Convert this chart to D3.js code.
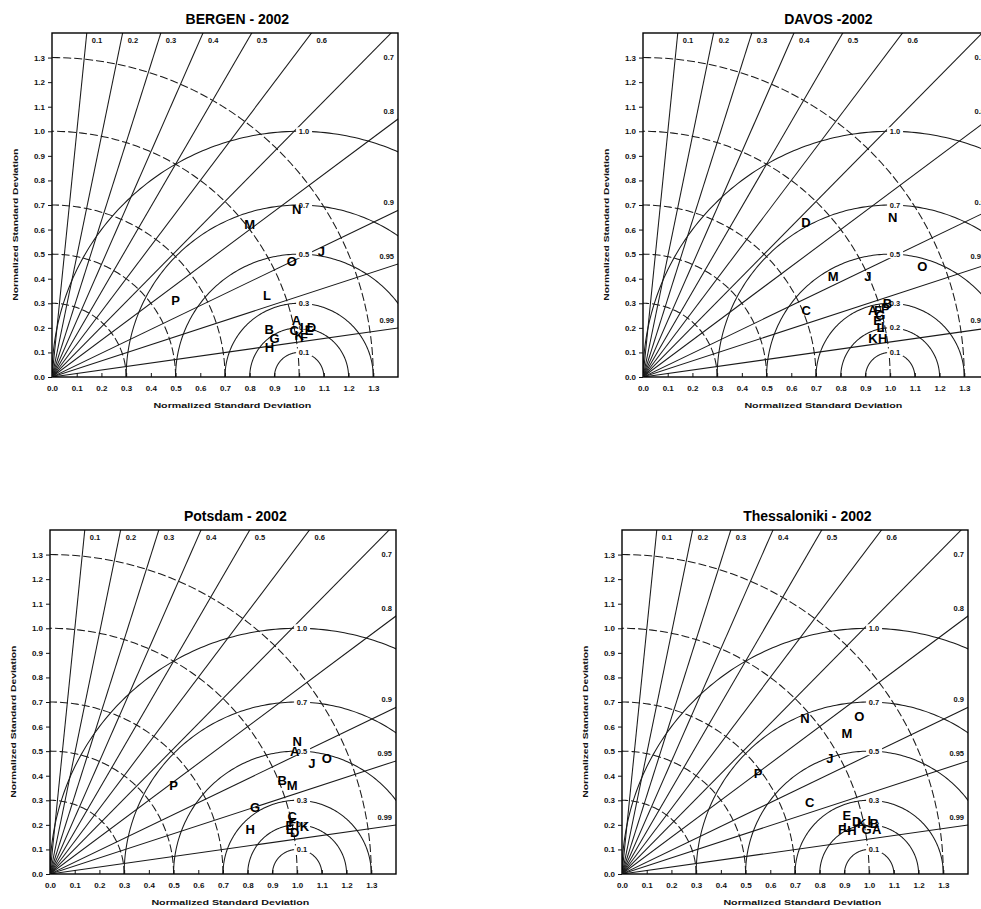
<!DOCTYPE html>
<html>
<head>
<meta charset="utf-8">
<title>Taylor diagrams - 2002</title>
<script src="https://d3js.org/d3.v7.min.js"></script>
<style>
  body { margin: 0; background: #fff; }
  svg { font-family: "Liberation Sans", Arial, sans-serif; }
  .axis path, .axis line { fill: none; stroke: #111; }
  .axis text { font-size: 8px; font-weight: bold; fill: #111; }
  .grid line, .grid path { fill: none; stroke: #1a1a1a; stroke-width: 1.05; }
  .sd { stroke-dasharray: 8,3; }
  .lab { font-size: 7.5px; font-weight: bold; fill: #111; }
  .title { font-size: 14px; font-weight: bold; fill: #000; text-anchor: middle; }
  .axtitle { font-size: 8px; font-weight: bold; fill: #111; text-anchor: middle; }
  .mark { font-size: 13px; font-weight: bold; fill: #000; text-anchor: middle; }
</style>
</head>
<body>
<script>
var width = 981, height = 909;

// grid definitions
var corrTicks = [0.1, 0.2, 0.3, 0.4, 0.5, 0.6, 0.7, 0.8, 0.9, 0.95, 0.99];
var sdArcs = [0.3, 0.5, 0.7, 1.0, 1.3];
var rmsArcs = [0.1, 0.2, 0.3, 0.5, 0.7, 1.0];
var axisTicks = [0.0, 0.1, 0.2, 0.3, 0.4, 0.5, 0.6, 0.7, 0.8, 0.9, 1.0, 1.1, 1.2, 1.3];
var maxV = 1.4;

// BERGEN
var bergenNames = ["A","B","C","D","E","F","G","H","I","J","K","L","M","N","O","P"];
var bergenSd    = [1.016,0.900,0.998,1.069,1.057,1.032,0.914,0.888,1.030,1.203,1.014,0.930,1.012,1.201,1.078,0.588];
var bergenCorr  = [0.974,0.977,0.982,0.982,0.984,0.988,0.985,0.991,0.981,0.906,0.986,0.935,0.790,0.824,0.900,0.850];

// DAVOS
var davosNames = ["A","B","C","D","E","F","G","H","I","J","K","L","M","N","O","P"];
var davosSd    = [0.968,1.034,0.713,0.912,0.977,0.988,0.992,0.983,0.992,0.998,0.944,0.981,0.872,1.201,1.216,1.019];
var davosCorr  = [0.960,0.957,0.926,0.723,0.972,0.962,0.968,0.987,0.978,0.912,0.986,0.979,0.883,0.841,0.929,0.962];

// POTSDAM
var potsdamNames = ["A","B","C","D","E","F","G","H","I","J","K","L","M","N","O","P"];
var potsdamSd    = [1.109,1.014,1.007,1.004,0.990,1.002,0.873,0.830,1.020,1.152,1.047,0.987,1.044,1.137,1.215,0.616];
var potsdamCorr  = [0.893,0.927,0.973,0.986,0.980,0.978,0.951,0.976,0.981,0.920,0.983,0.983,0.939,0.880,0.922,0.812];

// THESSALONIKI
var thessNames = ["A","B","C","D","E","F","G","H","I","J","K","L","M","N","O","P"];
var thessSd    = [1.046,1.041,0.813,0.973,0.941,0.908,1.006,0.947,1.024,0.963,0.992,0.930,1.074,0.975,1.154,0.686];
var thessCorr  = [0.985,0.980,0.934,0.976,0.967,0.980,0.984,0.982,0.977,0.873,0.978,0.979,0.847,0.759,0.832,0.802];

var panels = [
  {id: "bergen",  title: "BERGEN - 2002",       left: 52,  top: 33,  names: bergenNames,  sd: bergenSd,  corr: bergenCorr},
  {id: "davos",   title: "DAVOS -2002",         left: 643, top: 33,  names: davosNames,   sd: davosSd,   corr: davosCorr},
  {id: "potsdam", title: "Potsdam - 2002",      left: 50,  top: 530, names: potsdamNames, sd: potsdamSd, corr: potsdamCorr},
  {id: "thess",   title: "Thessaloniki - 2002", left: 622, top: 530, names: thessNames,   sd: thessSd,   corr: thessCorr}
];

var boxW = 346, boxH = 344;

var svg = d3.select("body").append("svg")
  .attr("width", width)
  .attr("height", height)
  .style("background", "#fff");

var defs = svg.append("defs");

panels.forEach(function(p) {
  var x = d3.scaleLinear().domain([0, maxV]).range([p.left, p.left + boxW]);
  var y = d3.scaleLinear().domain([0, maxV]).range([p.top + boxH, p.top]);
  var g = svg.append("g").attr("class", "panel");

  defs.append("clipPath").attr("id", "clip-" + p.id)
    .append("rect")
    .attr("x", x(0)).attr("y", y(maxV))
    .attr("width", x(maxV) - x(0)).attr("height", y(0) - y(maxV));

  var grid = g.append("g").attr("class", "grid").attr("clip-path", "url(#clip-" + p.id + ")");
  var line = d3.line().x(function(d) { return x(d[0]); }).y(function(d) { return y(d[1]); });
  var deg = d3.range(0, 181);

  // correlation rays
  grid.selectAll(".ray").data(corrTicks).enter().append("line")
    .attr("class", "ray")
    .attr("x1", x(0)).attr("y1", y(0))
    .attr("x2", function(c) { return x(2 * c); })
    .attr("y2", function(c) { return y(2 * Math.sqrt(1 - c * c)); });

  // standard deviation arcs (dashed, centred on origin)
  grid.selectAll(".sd").data(sdArcs).enter().append("path")
    .attr("class", "sd")
    .attr("d", function(r) {
      return line(deg.filter(function(a) { return a <= 90; }).map(function(a) {
        var t = a * Math.PI / 180;
        return [r * Math.cos(t), r * Math.sin(t)];
      }));
    });

  // centred RMS difference arcs (centred on reference point 1,0)
  grid.selectAll(".rms").data(rmsArcs).enter().append("path")
    .attr("class", "rms")
    .attr("d", function(r) {
      return line(deg.map(function(a) {
        var t = a * Math.PI / 180;
        return [1 + r * Math.cos(t), r * Math.sin(t)];
      }));
    });

  // RMS labels with white gap
  var rl = g.selectAll(".rmslab").data(rmsArcs).enter().append("g");
  rl.append("rect")
    .attr("x", x(1.02) - 8).attr("y", function(r) { return y(r) - 4; })
    .attr("width", 16).attr("height", 8).attr("fill", "#fff");
  rl.append("text").attr("class", "lab")
    .attr("x", x(1.02)).attr("y", function(r) { return y(r); })
    .attr("text-anchor", "middle").attr("dominant-baseline", "central")
    .text(function(r) { return r.toFixed(1); });

  // correlation labels along top and right edges
  g.selectAll(".clab").data(corrTicks).enter().append("text")
    .attr("class", "lab")
    .attr("x", function(c) {
      var xt = maxV * c / Math.sqrt(1 - c * c);
      return xt < maxV * 0.96 ? x(xt) + 5 : x(maxV) - 4;
    })
    .attr("y", function(c) {
      var xt = maxV * c / Math.sqrt(1 - c * c);
      if (xt < maxV * 0.96) return y(maxV) + 10;
      var yr = maxV * Math.sqrt(1 - c * c) / c;
      return Math.max(y(yr) - 5, y(maxV) + 27);
    })
    .attr("text-anchor", function(c) {
      var xt = maxV * c / Math.sqrt(1 - c * c);
      return xt < maxV * 0.96 ? "start" : "end";
    })
    .text(function(c) { return String(c); });

  // frame
  g.append("rect")
    .attr("x", x(0)).attr("y", y(maxV))
    .attr("width", x(maxV) - x(0)).attr("height", y(0) - y(maxV))
    .attr("fill", "none").attr("stroke", "#000").attr("stroke-width", 1.4);

  // axes
  g.append("g").attr("class", "axis")
    .attr("transform", "translate(" + x(0) + ",0)")
    .call(d3.axisLeft(y).tickValues(axisTicks).tickSize(4).tickPadding(3)
      .tickFormat(d3.format(".1f")))
    .select(".domain").remove();

  g.append("g").attr("class", "axis")
    .attr("transform", "translate(0," + y(0) + ")")
    .call(d3.axisBottom(x).tickValues(axisTicks).tickSizeInner(-4).tickSizeOuter(0).tickPadding(8)
      .tickFormat(d3.format(".1f")))
    .select(".domain").remove();

  // titles
  g.append("text").attr("class", "title")
    .attr("x", x(0.75)).attr("y", p.top - 9)
    .text(p.title);

  g.append("text").attr("class", "axtitle")
    .attr("x", x(0.73)).attr("y", y(0) + 31)
    .attr("textLength", 158).attr("lengthAdjust", "spacingAndGlyphs")
    .text("Normalized Standard Deviation");

  g.append("text").attr("class", "axtitle")
    .attr("transform", "translate(" + (x(0) - 34) + "," + y(0.62) + ") rotate(-90)")
    .attr("textLength", 152).attr("lengthAdjust", "spacingAndGlyphs")
    .text("Normalized Standard Deviation");

  // model points as letters
  g.selectAll(".mark").data(p.names).enter().append("text")
    .attr("class", "mark")
    .attr("x", function(d, i) { return x(p.sd[i] * p.corr[i]); })
    .attr("y", function(d, i) { return y(p.sd[i] * Math.sqrt(1 - p.corr[i] * p.corr[i])); })
    .attr("dominant-baseline", "central")
    .text(function(d) { return d; });
});
</script>
</body>
</html>
